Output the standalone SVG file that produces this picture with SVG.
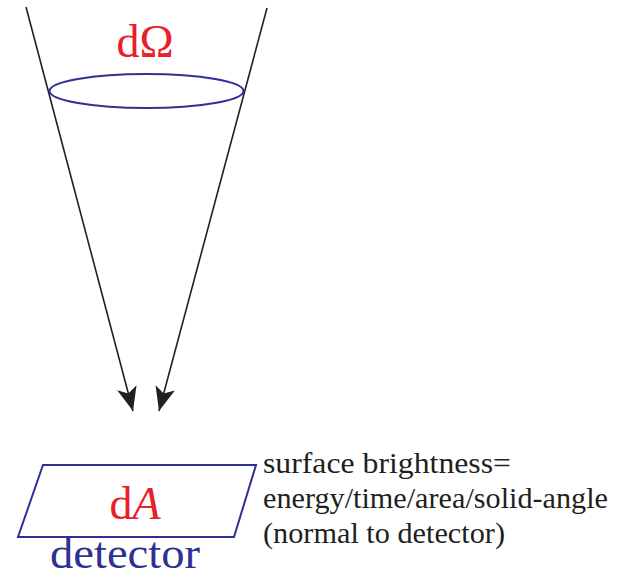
<svg xmlns="http://www.w3.org/2000/svg" width="622" height="579" viewBox="0 0 622 579">
<style>
.red{fill:#e8202a;font-family:"Liberation Serif",serif}
.blue{fill:#2e3192;font-family:"Liberation Serif",serif}
.txt{fill:#231f20;font-family:"Liberation Serif",serif;font-size:29px}
.conn{stroke:#231f20;stroke-width:1.6;fill:none}
</style>
<defs>
<marker id="ah" viewBox="0 0 24 20" refX="24" refY="10" markerWidth="24" markerHeight="20" markerUnits="userSpaceOnUse" orient="auto">
<path d="M0,0 L24,10 L0,20 L6,10 Z" fill="#231f20"/>
</marker>
</defs>
<g id="connectors">
<line class="conn" x1="26" y1="7" x2="133" y2="411" marker-end="url(#ah)"/>
<line class="conn" x1="267" y1="8" x2="159" y2="411" marker-end="url(#ah)"/>
</g>
<g id="solid-angle">
<ellipse cx="146.5" cy="91" rx="97" ry="17" fill="none" stroke="#2e3192" stroke-width="2"/>
<text class="red" x="145" y="57" font-size="46" text-anchor="middle">dΩ</text>
</g>
<g id="detector">
<polygon points="43,465 256,465 234,537 18,537" fill="none" stroke="#2e3192" stroke-width="2"/>
<text class="red" x="135" y="519" font-size="46" text-anchor="middle">d<tspan font-style="italic">A</tspan></text>
<text class="blue" x="125" y="568" font-size="44" text-anchor="middle" textLength="150" lengthAdjust="spacingAndGlyphs">detector</text>
</g>
<g id="label">
<text class="txt" x="263" y="473" textLength="248" lengthAdjust="spacingAndGlyphs">surface brightness=</text>
<text class="txt" x="263" y="508" textLength="345" lengthAdjust="spacingAndGlyphs">energy/time/area/solid-angle</text>
<text class="txt" x="263" y="543" textLength="242" lengthAdjust="spacingAndGlyphs">(normal to detector)</text>
</g>
</svg>
